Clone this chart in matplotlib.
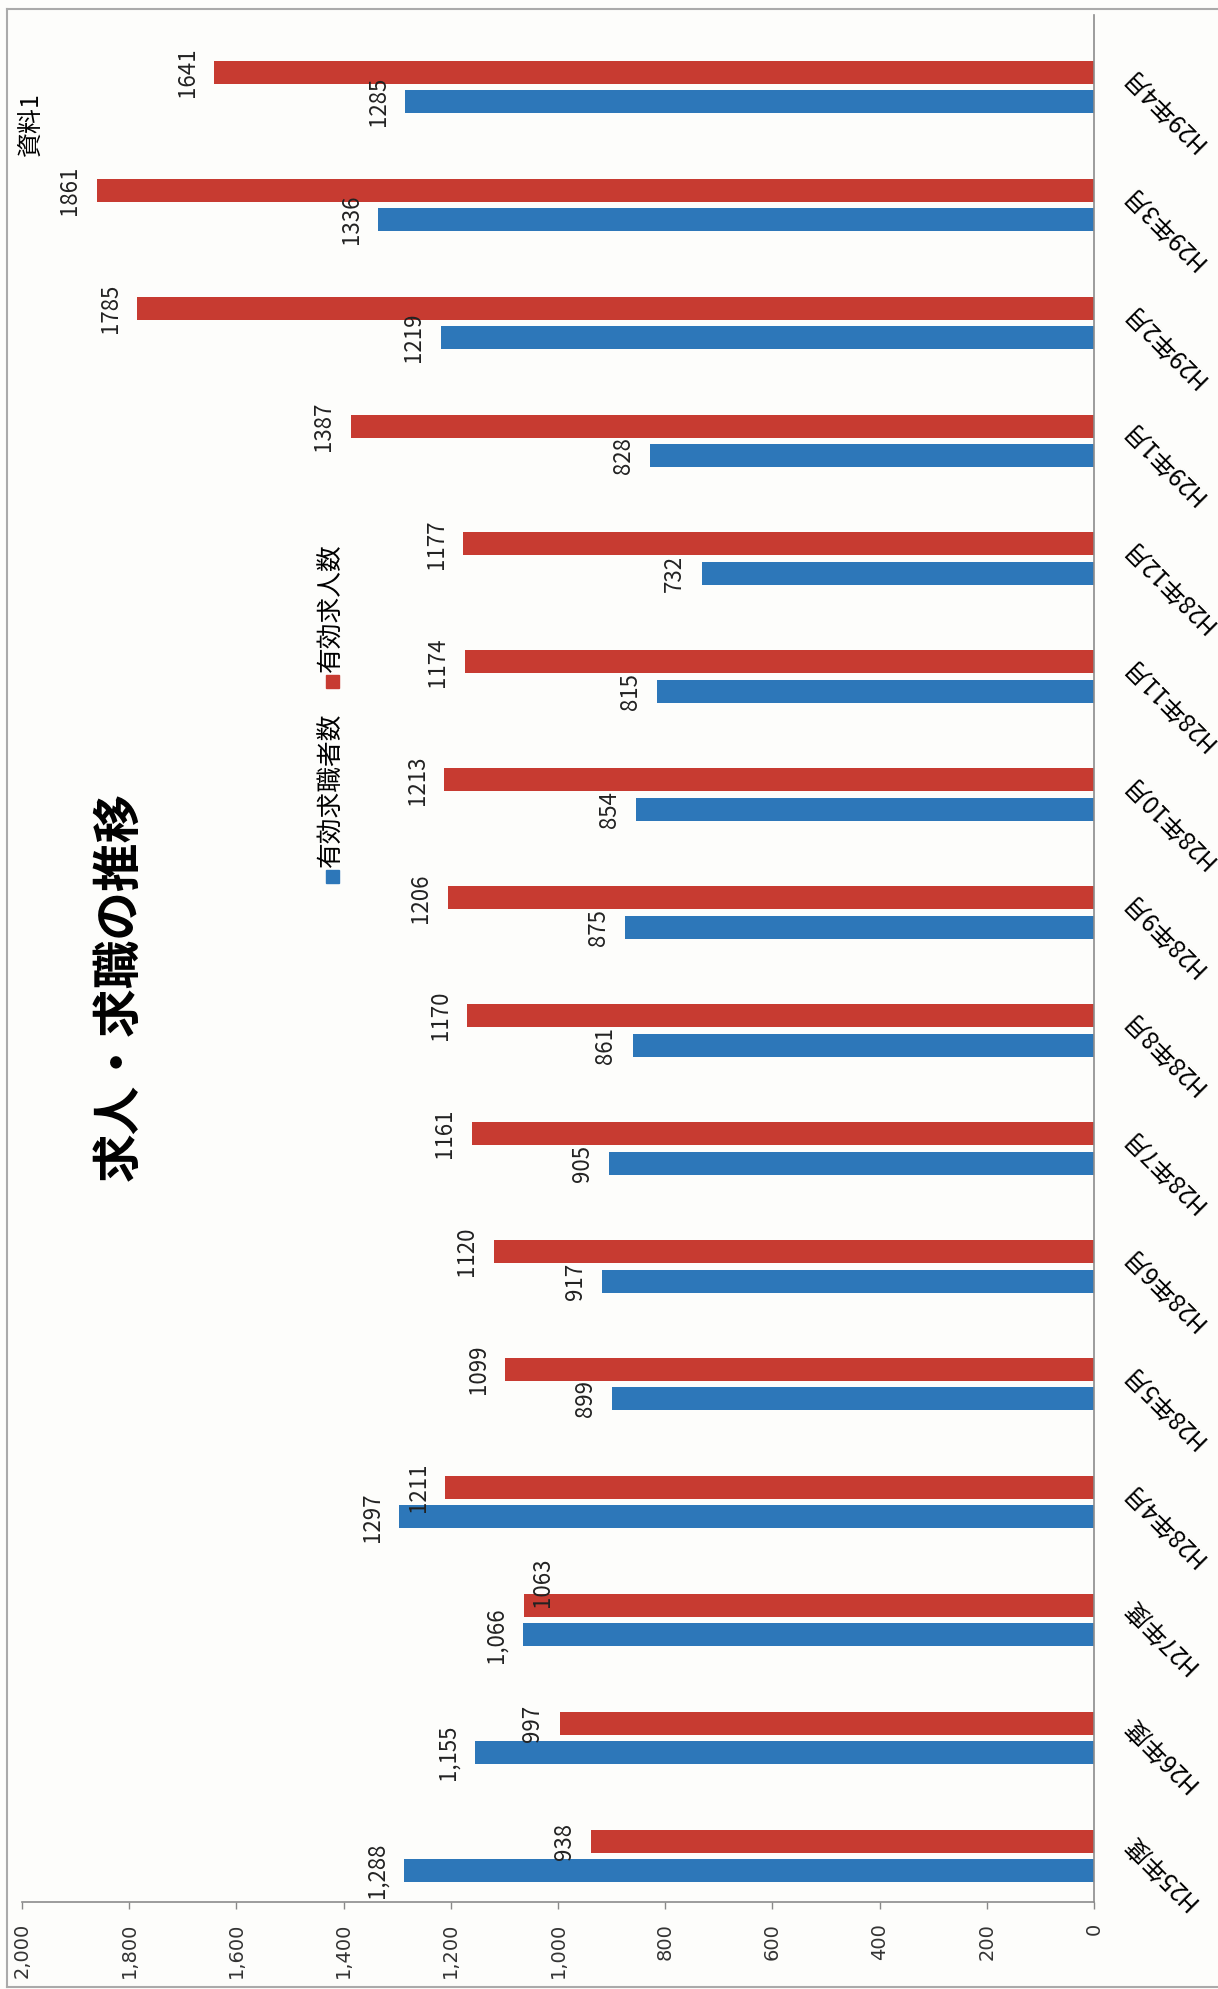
import matplotlib
matplotlib.use("Agg")
import matplotlib.pyplot as plt
from matplotlib.patches import Rectangle
from matplotlib.lines import Line2D
from matplotlib.transforms import ScaledTranslation
import numpy as np

plt.rcParams["font.family"] = ["Noto Sans CJK JP", "DejaVu Sans"]

categories = [
    "H25年度", "H26年度", "H27年度", "H28年4月", "H28年5月", "H28年6月",
    "H28年7月", "H28年8月", "H28年9月", "H28年10月", "H28年11月", "H28年12月",
    "H29年1月", "H29年2月", "H29年3月", "H29年4月",
]
job_seekers = [1288, 1155, 1066, 1297, 899, 917, 905, 861, 875, 854, 815, 732, 828, 1219, 1336, 1285]
job_openings = [938, 997, 1063, 1211, 1099, 1120, 1161, 1170, 1206, 1213, 1174, 1177, 1387, 1785, 1861, 1641]
# the first three yearly figures carry a thousands separator in the source
seeker_labels = ["1,288", "1,155", "1,066"] + [str(v) for v in job_seekers[3:]]
opening_labels = [str(v) for v in job_openings]
value_ticks = list(range(0, 2001, 200))

series_names = ["有効求職者数", "有効求人数"]
blue = "#2d77b9"
red = "#c73b31"

W, H = 1218, 1989


def px(x, y):
    # pixel position measured from top-left -> figure fraction
    return x / W, 1 - y / H


fig = plt.figure(figsize=(W / 100, H / 100), dpi=100)
fig.patch.set_facecolor("#fdfdfb")

ax = fig.add_axes([22 / W, 1 - 1902 / H, (1094 - 22) / W, (1902 - 15) / H])
ax.set_facecolor("none")

y = np.arange(len(categories))
bw = 0.195
off = 0.125
ax.barh(y - off, job_seekers, height=bw, color=blue)
ax.barh(y + off, job_openings, height=bw, color=red)

ax.set_xlim(2000, 0)
ax.set_ylim(-0.39, len(categories) - 1 + 0.61)

for yi, v, s in zip(y, job_seekers, seeker_labels):
    ax.annotate(s, (v, yi - off), xytext=(-11, 0), textcoords="offset points",
                rotation=90, ha="right", va="center", fontsize=16, color="#222222")
for i, (yi, v, s) in enumerate(zip(y, job_openings, opening_labels)):
    if s == "1063":
        # this label was nudged onto the bar in the source to clear its neighbour
        ax.annotate(s, (v, yi + off), xytext=(13, 17), textcoords="offset points",
                    rotation=90, ha="center", va="center", fontsize=16, color="#222222")
    else:
        ax.annotate(s, (v, yi + off), xytext=(-11, 0), textcoords="offset points",
                    rotation=90, ha="right", va="center", fontsize=16, color="#222222")

# category axis sits on the right (chart is a rotated column chart)
ax.yaxis.tick_right()
ax.set_yticks(y)
ax.set_yticklabels(categories, rotation=135, rotation_mode="anchor",
                   ha="right", va="top", fontsize=17.5)
ax.tick_params(axis="y", length=0, pad=17)
shift = ScaledTranslation(0, 6 / 72, fig.dpi_scale_trans)
for t in ax.yaxis.get_major_ticks():
    t.label2.set_transform(t.label2.get_transform() + shift)

ax.set_xticks(value_ticks)
ax.set_xticklabels([f"{v:,}" for v in value_ticks], rotation=90,
                   fontsize=14, family="DejaVu Sans", color="#333333")
ax.tick_params(axis="x", length=5, width=1, color="#888888", pad=10)

for side in ["left", "top"]:
    ax.spines[side].set_visible(False)
for side in ["right", "bottom"]:
    ax.spines[side].set_color("#8c8c8c")
    ax.spines[side].set_linewidth(1.2)

# title and note
fig.text(*px(119, 986), "求人・求職の推移", rotation=90, fontsize=35,
         fontweight="bold", ha="center", va="center")
fig.text(*px(31, 124), "資料1", rotation=90, fontsize=18, ha="center", va="center")

# legend, drawn by hand because it is rotated
sq = 13
for (cy, ty), name, col in zip([(876, 867), (681, 672)], series_names, [blue, red]):
    fig.add_artist(Rectangle(px(332 - sq / 2, cy + sq / 2), sq / W, sq / H,
                             transform=fig.transFigure, color=col))
    fig.text(*px(332, ty), name, rotation=90, fontsize=18.5, ha="center", va="bottom")

# outer chart frame
frame = dict(transform=fig.transFigure, color="#aaaaaa", lw=1.5)
fig.add_artist(Line2D([7 / W, 7 / W], [1 - 9 / H, 1 - 1987 / H], **frame))
fig.add_artist(Line2D([7 / W, 1], [1 - 9 / H, 1 - 9 / H], **frame))
fig.add_artist(Line2D([7 / W, 1], [1 - 1987 / H, 1 - 1987 / H], **frame))

fig.savefig("out.png", dpi=100, facecolor=fig.get_facecolor())
